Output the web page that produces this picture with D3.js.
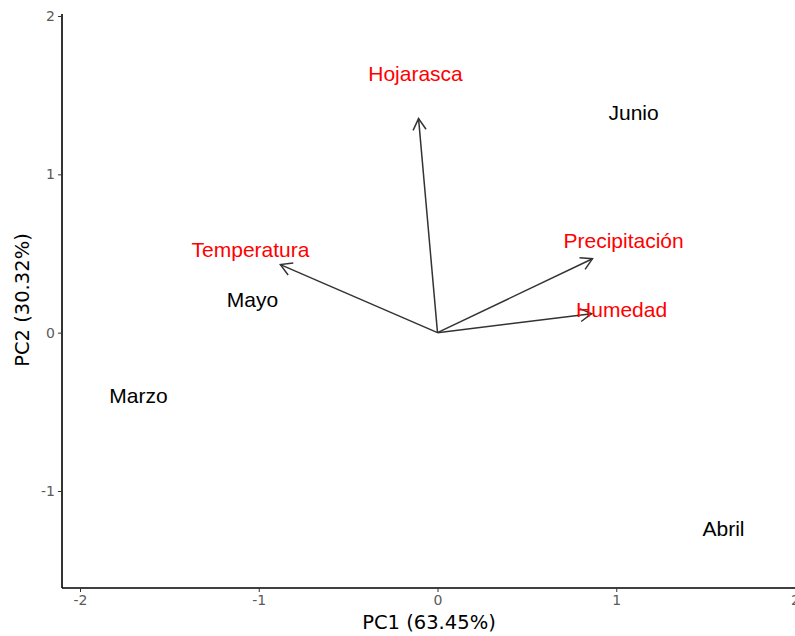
<!DOCTYPE html>
<html>
<head>
<meta charset="utf-8">
<script src="https://cdn.jsdelivr.net/npm/d3@7"></script>
<style>
  html, body { margin: 0; padding: 0; background: #fff; }
  svg { display: block; }
</style>
</head>
<body>
<svg id="chart" width="795" height="636"></svg>
<script>
// Sample scores (months) on the first two principal components
const months = ["Junio", "Mayo", "Marzo", "Abril"];
const monthPC1 = [1.097, -1.035, -1.673, 1.600];
const monthPC2 = [1.390, 0.208, -0.398, -1.238];

// Variable loadings (arrow tips) and their label positions
const variables = ["Hojarasca", "Temperatura", "Precipitación", "Humedad"];
const loadPC1 = [-0.106, -0.879, 0.867, 0.862];
const loadPC2 = [1.352, 0.430, 0.467, 0.120];
const labelPC1 = [-0.123, -1.046, 1.041, 1.030];
const labelPC2 = [1.636, 0.524, 0.581, 0.146];

const xTicks = [-2, -1, 0, 1, 2];
const yTicks = [-1, 0, 1, 2];

const svg = d3.select("#chart");
const plotLeft = 62, plotRight = 795, plotTop = 14, plotBottom = 588;

const x = d3.scaleLinear().domain([-2.1007, 2]).range([plotLeft, plotRight]);
const y = d3.scaleLinear().domain([-1.6126, 2.0126]).range([plotBottom, plotTop]);

const tickFont = "'DejaVu Sans', sans-serif";
const labelFont = "'Liberation Sans', Arial, sans-serif";
const fmt = d => String(d); // plain hyphen-minus

// Axes
const xAxis = svg.append("g")
  .attr("transform", `translate(0,${plotBottom})`)
  .call(d3.axisBottom(x).tickValues(xTicks).tickSize(4).tickPadding(3).tickFormat(fmt));
const yAxis = svg.append("g")
  .attr("transform", `translate(${plotLeft},0)`)
  .call(d3.axisLeft(y).tickValues(yTicks).tickSize(4).tickPadding(3).tickFormat(fmt));

[xAxis, yAxis].forEach(g => {
  g.select(".domain").attr("stroke", "#000").attr("stroke-width", 1.6);
  g.selectAll(".tick line").attr("stroke", "#333").attr("stroke-width", 1);
  g.selectAll(".tick text")
    .attr("fill", "#5a5a5a")
    .style("font-family", tickFont)
    .style("font-size", "14px");
});
yAxis.select(".domain").attr("d", `M0,${plotTop}V${plotBottom}`);
xAxis.select(".domain").attr("d", `M${plotLeft},0H${plotRight}`);

// Axis titles
svg.append("text")
  .attr("x", 429).attr("y", 629)
  .attr("text-anchor", "middle")
  .style("font-family", tickFont)
  .style("font-size", "19.5px")
  .attr("fill", "#000")
  .text("PC1 (63.45%)");
svg.append("text")
  .attr("transform", "translate(29,300) rotate(-90)")
  .attr("text-anchor", "middle")
  .style("font-family", tickFont)
  .style("font-size", "19.5px")
  .attr("fill", "#000")
  .text("PC2 (30.32%)");

// Month labels
svg.append("g").selectAll("text")
  .data(months)
  .join("text")
  .attr("x", (d, i) => x(monthPC1[i]))
  .attr("y", (d, i) => y(monthPC2[i]))
  .attr("dy", "0.35em")
  .attr("text-anchor", "middle")
  .style("font-family", labelFont)
  .style("font-size", "21px")
  .attr("fill", "#000")
  .text(d => d);

// Loading arrows with open heads
const arrows = svg.append("g")
  .attr("stroke", "#333")
  .attr("stroke-width", 1.5)
  .attr("fill", "none");
const headLen = 13, headAng = Math.PI / 6;
variables.forEach((v, i) => {
  const x0 = x(0), y0 = y(0);
  const x1 = x(loadPC1[i]), y1 = y(loadPC2[i]);
  arrows.append("line")
    .attr("x1", x0).attr("y1", y0)
    .attr("x2", x1).attr("y2", y1);
  const a = Math.atan2(y1 - y0, x1 - x0);
  const p1 = [x1 - headLen * Math.cos(a - headAng), y1 - headLen * Math.sin(a - headAng)];
  const p2 = [x1 - headLen * Math.cos(a + headAng), y1 - headLen * Math.sin(a + headAng)];
  arrows.append("path")
    .attr("d", `M${p1[0]},${p1[1]}L${x1},${y1}L${p2[0]},${p2[1]}`);
});

// Variable labels
svg.append("g").selectAll("text")
  .data(variables)
  .join("text")
  .attr("x", (d, i) => x(labelPC1[i]))
  .attr("y", (d, i) => y(labelPC2[i]))
  .attr("dy", "0.35em")
  .attr("text-anchor", "middle")
  .style("font-family", labelFont)
  .style("font-size", "21px")
  .attr("fill", "#ff0000")
  .text(d => d);
</script>
</body>
</html>
